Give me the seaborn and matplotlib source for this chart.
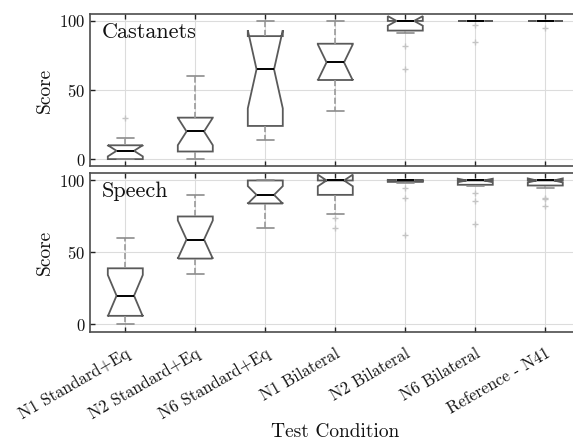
import pandas as pd
import matplotlib.pyplot as plt
import seaborn as sns

# Test conditions (x axis order)
conditions = ["N1 Standard+Eq", "N2 Standard+Eq", "N6 Standard+Eq",
              "N1 Bilateral", "N2 Bilateral", "N6 Bilateral", "Reference - N41"]

# Castanets scores per condition (listener ratings)
cast_n1_std = [0, 0, 0, 0, 0, 3, 5, 6, 8, 10, 10, 10, 12, 15, 30]
cast_n2_std = [0, 3, 5, 5, 6, 10, 15, 20, 22, 25, 30, 30, 40, 50, 60]
cast_n6_std = [14, 18, 20, 24, 35, 50, 65, 70, 80, 89, 92, 98, 100]
cast_n1_bil = [35, 50, 57, 58, 65, 75, 82, 84, 90, 100]
cast_n2_bil = [65, 82, 91, 99, 100, 100, 100, 100, 100, 100]
cast_n6_bil = [85, 97, 100, 100, 100, 100, 100, 100, 100, 100]
cast_ref = [95, 100, 100, 100, 100, 100, 100, 100, 100, 100]

# Speech scores per condition
speech_n1_std = [0, 2, 5, 6, 10, 15, 20, 25, 30, 39, 45, 50, 60]
speech_n2_std = [35, 40, 45, 46, 50, 58, 60, 70, 75, 75, 80, 90]
speech_n6_std = [67, 70, 75, 80, 84, 85, 87, 88, 90, 92, 95, 98, 100, 100, 100, 100, 100]
speech_n1_bil = [67, 74, 77, 88, 92, 96, 99, 100, 100, 100, 100, 100, 100, 100, 100]
speech_n2_bil = [62, 88, 95, 98, 100, 100, 100, 100, 100, 100, 100, 100, 100, 100, 100]
speech_n6_bil = [70, 86, 91, 96, 98, 100, 100, 100, 100, 100, 100, 100, 100, 100, 100]
speech_ref = [82, 87, 88, 95, 98, 100, 100, 100, 100, 100, 100, 100, 100, 100, 100]

castanets = [cast_n1_std, cast_n2_std, cast_n6_std, cast_n1_bil, cast_n2_bil, cast_n6_bil, cast_ref]
speech = [speech_n1_std, speech_n2_std, speech_n6_std, speech_n1_bil, speech_n2_bil, speech_n6_bil, speech_ref]


def to_long(groups):
    rows = []
    for cond, vals in zip(conditions, groups):
        for v in vals:
            rows.append({"condition": cond, "score": v})
    return pd.DataFrame(rows)


df_cast = to_long(castanets)
df_speech = to_long(speech)

sns.set_theme(style="whitegrid")
plt.rcParams["font.family"] = "serif"
plt.rcParams["font.serif"] = ["cmr10"]
plt.rcParams["mathtext.fontset"] = "cm"
plt.rcParams["axes.formatter.use_mathtext"] = True
plt.rcParams["axes.unicode_minus"] = False

fig = plt.figure(figsize=(5.73, 4.42), dpi=100)
ax_top = fig.add_axes([0.1576, 0.6244, 0.8551, 0.3439])
ax_bot = fig.add_axes([0.1576, 0.2496, 0.8551, 0.3584])

box_kws = dict(
    x="condition", y="score", order=conditions, notch=True, width=0.5,
    color="white", linecolor="#5a5a5a", linewidth=1.3, fliersize=5,
    medianprops=dict(color="black", linewidth=1.4),
    whiskerprops=dict(color="#9a9a9a", linestyle="--", linewidth=1.2),
    capprops=dict(color="#8c8c8c", linewidth=1.2),
    flierprops=dict(marker="+", markeredgecolor="#c4c4c4", markeredgewidth=1),
)

sns.boxplot(data=df_cast, ax=ax_top, **box_kws)
sns.boxplot(data=df_speech, ax=ax_bot, **box_kws)

for ax, name in [(ax_top, "Castanets"), (ax_bot, "Speech")]:
    ax.set_xlim(-0.5, 6.5)
    ax.set_ylim(-5, 105)
    ax.set_yticks([0, 50, 100])
    ax.set_ylabel("Score", fontsize=14, color="#111111")
    ax.grid(True, color="#dcdcdc", linewidth=0.8)
    for sp in ax.spines.values():
        sp.set_color("#4d4d4d")
        sp.set_linewidth(1.2)
    ax.tick_params(axis="both", direction="in", length=3.5, width=1, color="#222222",
                   top=True, bottom=True, left=True, right=True, labelsize=12,
                   labelcolor="#111111")
    ax.text(0.023, 0.945, name, transform=ax.transAxes, fontsize=16,
            ha="left", va="top", color="#111111")

ax_top.set_xlabel("")
ax_top.tick_params(axis="x", labelbottom=False)

ax_bot.set_xlabel("Test Condition", fontsize=14, color="#111111")
ax_bot.xaxis.set_label_coords(0.5, -0.575)
ax_bot.set_xticks(range(len(conditions)))
ax_bot.set_xticklabels(conditions, rotation=30, ha="right", rotation_mode="anchor")
ax_bot.tick_params(axis="x", pad=10, labelsize=12)

fig.savefig("out.png", dpi=100)
